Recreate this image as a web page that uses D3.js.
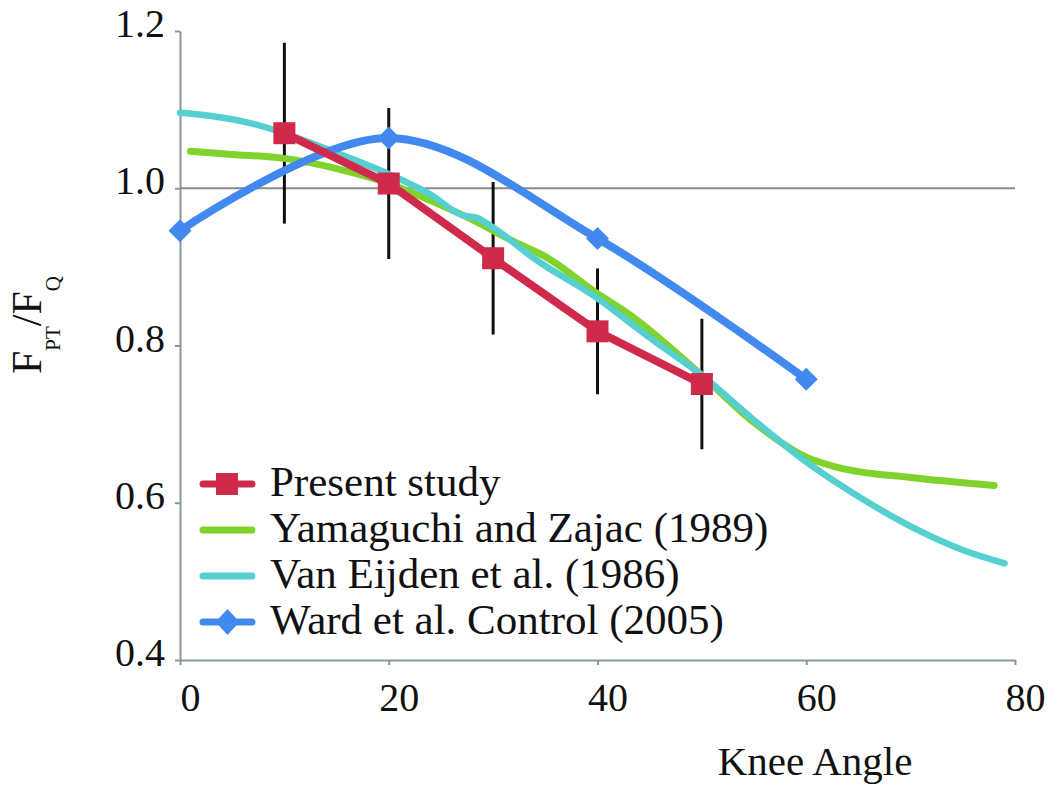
<!DOCTYPE html>
<html>
<head>
<meta charset="utf-8">
<script src="https://cdn.jsdelivr.net/npm/d3@7"></script>
<style>
  body { margin: 0; background: #fff; }
  text { font-family: "Liberation Serif", "Times New Roman", serif; fill: #111; }
</style>
</head>
<body>
<svg id="chart"></svg>
<script>
// axis ticks
var xTicks = [0, 20, 40, 60, 80]
var yTicks = [0.4, 0.6, 0.8, 1.0, 1.2]

// Present study (mean +/- sd)
var presentX = [10, 20, 30, 40, 50]
var presentY = [1.07, 1.006, 0.911, 0.818, 0.751]
var presentErr = [0.115, 0.096, 0.097, 0.08, 0.083]

// Ward et al. Control (2005)
var wardX = [0, 20, 40, 60]
var wardY = [0.946, 1.064, 0.936, 0.757]

// Yamaguchi and Zajac (1989)
var yamX = [1, 5, 10, 15, 20, 23, 28, 32, 35, 40, 43, 50, 55, 60, 63, 70, 78]
var yamY = [1.047, 1.043, 1.038, 1.025, 1.006, 0.99, 0.96, 0.932, 0.913, 0.866, 0.84, 0.762, 0.702, 0.658, 0.645, 0.632, 0.622]

// Van Eijden et al. (1986)
var vanX = [0, 3, 7, 10, 15, 20, 24, 27, 28.5, 30, 34, 40, 45, 50, 55, 60, 65, 70, 75, 79]
var vanY = [1.096, 1.092, 1.082, 1.07, 1.045, 1.018, 0.992, 0.966, 0.962, 0.95, 0.91, 0.86, 0.81, 0.762, 0.705, 0.652, 0.608, 0.57, 0.54, 0.523]

var legendNames = ["Present study", "Yamaguchi and Zajac (1989)", "Van Eijden et al. (1986)", "Ward et al. Control (2005)"]

var colors = {
    present: "#cf2a4c",
    yam: "#80d22c",
    van: "#55cfcf",
    ward: "#4189ee"
}

var dimensions = {
    width: 1050,
    height: 786,
    margin: { top: 31, bottom: 126, left: 180, right: 35 }
}

var svg = d3.select("#chart")
            .attr("width", dimensions.width)
            .attr("height", dimensions.height)

var xScale = d3.scaleLinear()
               .domain([0, 80])
               .range([dimensions.margin.left, dimensions.width - dimensions.margin.right])

var yScale = d3.scaleLinear()
               .domain([0.4, 1.2])
               .range([dimensions.height - dimensions.margin.bottom, dimensions.margin.top])

var axisColor = "#8c9896"

// reference line at 1.0
svg.append("line")
   .attr("x1", xScale(0))
   .attr("x2", xScale(80))
   .attr("y1", yScale(1.0))
   .attr("y2", yScale(1.0))
   .attr("stroke", "#8a8a8a")
   .attr("stroke-width", 2)

// axes
var xAxis = svg.append("g")
               .attr("transform", `translate(0, ${yScale(0.4)})`)
               .call(d3.axisBottom(xScale).tickValues(xTicks).tickSize(5).tickSizeOuter(0).tickPadding(18).tickFormat(d3.format("d")))
var yAxis = svg.append("g")
               .attr("transform", `translate(${xScale(0)}, 0)`)
               .call(d3.axisLeft(yScale).tickValues(yTicks).tickSize(5).tickSizeOuter(0).tickPadding(10).tickFormat(d3.format(".1f")))

;[xAxis, yAxis].forEach(a => {
    a.select(".domain").attr("stroke", axisColor).attr("stroke-width", 2)
    a.selectAll(".tick line").attr("stroke", axisColor).attr("stroke-width", 2)
    a.selectAll(".tick text")
     .attr("font-family", "Liberation Serif, Times New Roman, serif")
     .attr("font-size", 40)
     .attr("fill", "#111")
})
xAxis.selectAll(".tick text").attr("dx", 10)
yAxis.selectAll(".tick text").attr("dy", "0.14em")

// error bars
svg.append("g")
   .selectAll("line")
   .data(presentX)
   .enter()
   .append("line")
   .attr("x1", (d, i) => xScale(d))
   .attr("x2", (d, i) => xScale(d))
   .attr("y1", (d, i) => yScale(presentY[i] + presentErr[i]))
   .attr("y2", (d, i) => yScale(presentY[i] - presentErr[i]))
   .attr("stroke", "#111")
   .attr("stroke-width", 3)

function drawLine(xs, ys, color, width, curve) {
    var pts = xs.map((x, i) => [x, ys[i]])
    var line = d3.line()
                 .x(d => xScale(d[0]))
                 .y(d => yScale(d[1]))
                 .curve(curve)
    svg.append("path")
       .datum(pts)
       .attr("d", line)
       .attr("fill", "none")
       .attr("stroke", color)
       .attr("stroke-width", width)
       .attr("stroke-linecap", "round")
       .attr("stroke-linejoin", "round")
}

drawLine(yamX, yamY, colors.yam, 7, d3.curveMonotoneX)
drawLine(vanX, vanY, colors.van, 6.5, d3.curveMonotoneX)
drawLine(wardX, wardY, colors.ward, 8, d3.curveCatmullRom)
drawLine(presentX, presentY, colors.present, 8, d3.curveLinear)

var diamond = "M0,-11.5L11.5,0L0,11.5L-11.5,0Z"

svg.append("g")
   .selectAll("path")
   .data(wardX)
   .enter()
   .append("path")
   .attr("d", diamond)
   .attr("transform", (d, i) => `translate(${xScale(d)}, ${yScale(wardY[i])})`)
   .attr("fill", colors.ward)

svg.append("g")
   .selectAll("rect")
   .data(presentX)
   .enter()
   .append("rect")
   .attr("x", d => xScale(d) - 11)
   .attr("y", (d, i) => yScale(presentY[i]) - 11)
   .attr("width", 22)
   .attr("height", 22)
   .attr("fill", colors.present)

// legend
var legendColors = [colors.present, colors.yam, colors.van, colors.ward]
var legend = svg.append("g")
                .selectAll("g")
                .data(legendNames)
                .enter()
                .append("g")
                .attr("transform", (d, i) => `translate(203, ${484 + i * 46})`)

legend.append("line")
      .attr("x1", 0)
      .attr("x2", 49)
      .attr("stroke", (d, i) => legendColors[i])
      .attr("stroke-width", 7)
      .attr("stroke-linecap", "round")

legend.filter((d, i) => i == 0)
      .append("rect")
      .attr("x", 13)
      .attr("y", -11)
      .attr("width", 22)
      .attr("height", 22)
      .attr("fill", colors.present)

legend.filter((d, i) => i == 3)
      .append("path")
      .attr("d", "M0,-13L12,0L0,13L-12,0Z")
      .attr("transform", "translate(24.5, 0)")
      .attr("fill", colors.ward)

legend.append("text")
      .attr("x", 67)
      .attr("y", 12)
      .attr("font-size", 43)
      .text(d => d)

// axis titles
svg.append("text")
   .attr("x", 815)
   .attr("y", 775)
   .attr("text-anchor", "middle")
   .attr("font-size", 41)
   .text("Knee Angle")

var yTitle = svg.append("text")
                .attr("transform", "translate(41, 325) rotate(-90)")
                .attr("text-anchor", "middle")
                .attr("font-size", 42)
yTitle.append("tspan").text("F")
yTitle.append("tspan").attr("font-size", 21).attr("dy", 19).text("PT")
yTitle.append("tspan").attr("dy", -19).text("/F")
yTitle.append("tspan").attr("font-size", 21).attr("dy", 19).text("Q")
</script>
</body>
</html>
